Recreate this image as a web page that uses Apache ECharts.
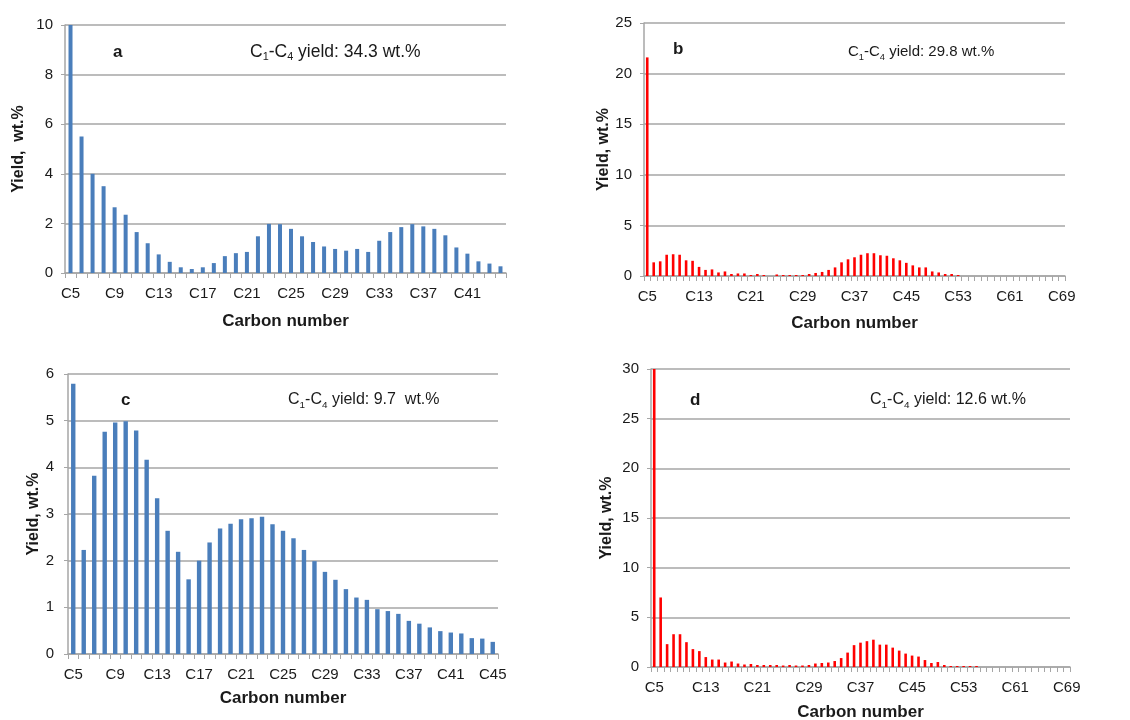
<!DOCTYPE html>
<html>
<head>
<meta charset="utf-8">
<script src="https://cdn.jsdelivr.net/npm/echarts@6/dist/echarts.min.js"></script>
<style>
  html, body { margin: 0; padding: 0; background: #fff; }
  #chart { width: 1130px; height: 720px; }
</style>
</head>
<body>
<div id="chart"></div>
<script>
// carbon number labels, C5 upwards
function carbonLabels(from, to) {
    let out = []
    for (let n = from; n <= to; ++n) {
        out.push('C' + n)
    }
    return out
}

const catsA = carbonLabels(5, 44)
const catsB = carbonLabels(5, 69)
const catsC = carbonLabels(5, 45)
const catsD = carbonLabels(5, 69)

const yieldA = [10, 5.5, 4.0, 3.5, 2.65, 2.35, 1.65, 1.2, 0.75, 0.45,
    0.23, 0.16, 0.23, 0.4, 0.68, 0.8, 0.85, 1.48, 1.98, 1.97,
    1.78, 1.48, 1.25, 1.07, 0.97, 0.9, 0.97, 0.85, 1.3, 1.65,
    1.85, 1.97, 1.88, 1.78, 1.52, 1.03, 0.78, 0.47, 0.38, 0.27]

const yieldB = [21.6, 1.35, 1.45, 2.1, 2.15, 2.1, 1.55, 1.5, 0.9, 0.6,
    0.65, 0.35, 0.45, 0.2, 0.25, 0.25, 0.1, 0.2, 0.1, 0,
    0.15, 0.1, 0.1, 0.1, 0.1, 0.2, 0.3, 0.4, 0.6, 0.85,
    1.35, 1.65, 1.85, 2.1, 2.25, 2.25, 2.05, 2.0, 1.75, 1.55,
    1.3, 1.05, 0.85, 0.85, 0.45, 0.35, 0.2, 0.2, 0.1, 0,
    0, 0, 0, 0, 0, 0, 0, 0, 0, 0,
    0, 0, 0, 0, 0]

const yieldC = [5.79, 2.23, 3.82, 4.76, 4.96, 4.99, 4.79, 4.16, 3.34, 2.64,
    2.19, 1.6, 2.0, 2.39, 2.69, 2.79, 2.89, 2.91, 2.94, 2.78,
    2.64, 2.48, 2.23, 1.99, 1.76, 1.59, 1.39, 1.21, 1.16, 0.96,
    0.92, 0.86, 0.71, 0.65, 0.57, 0.49, 0.46, 0.44, 0.34, 0.33,
    0.26]

const yieldD = [30, 7.0, 2.3, 3.3, 3.3, 2.5, 1.8, 1.6, 1.0, 0.75,
    0.75, 0.45, 0.55, 0.35, 0.25, 0.3, 0.2, 0.2, 0.2, 0.2,
    0.15, 0.2, 0.15, 0.15, 0.2, 0.35, 0.4, 0.45, 0.6, 0.9,
    1.45, 2.2, 2.45, 2.6, 2.75, 2.25, 2.25, 1.95, 1.65, 1.35,
    1.15, 1.05, 0.7, 0.4, 0.5, 0.2, 0.1, 0.1, 0.1, 0.1,
    0.1, 0, 0, 0, 0, 0, 0, 0, 0, 0,
    0, 0, 0, 0, 0]

const panelLetters = ['a', 'b', 'c', 'd']
const gasYields = ['34.3 wt.%', '29.8 wt.%', '9.7  wt.%', '12.6 wt.%']

const FONT = '"Liberation Sans", Arial, sans-serif'
const TEXT = '#1a1a1a'
const GRID_COLOR = '#a6a6a6'
const BLUE = '#4a7ebb'
const RED = '#ff0000'

let panels = [
    { cats: catsA, data: yieldA, color: BLUE, max: 10, step: 2, every: 3, barWidth: 4, yName: 'Yield,  wt.%', yGap: 38,
      yMargin: 12, grid: { left: 65, top: 25, width: 441, height: 248 }, xGap: 40 },
    { cats: catsB, data: yieldB, color: RED, max: 25, step: 5, every: 7, barWidth: 2.6, yName: 'Yield, wt.%', yGap: 31,
      yMargin: 12, grid: { left: 644, top: 23, width: 421, height: 253 }, xGap: 39 },
    { cats: catsC, data: yieldC, color: BLUE, max: 6, step: 1, every: 3, barWidth: 4.4, yName: 'Yield, wt.%', yGap: 25,
      yMargin: 14, grid: { left: 68, top: 374, width: 430, height: 280 }, xGap: 36 },
    { cats: catsD, data: yieldD, color: RED, max: 30, step: 5, every: 7, barWidth: 2.6, yName: 'Yield, wt.%', yGap: 36,
      yMargin: 12, grid: { left: 651, top: 369, width: 419, height: 298 }, xGap: 37 },
]

let grids = []
let xAxes = []
let yAxes = []
let series = []

panels.forEach((p, i) => {
    // fixed pixel boxes, don't let echarts shrink them to fit labels
    grids.push(Object.assign({ show: false, outerBoundsMode: 'none', containLabel: false }, p.grid))
    xAxes.push({
        type: 'category',
        gridIndex: i,
        data: p.cats,
        boundaryGap: true,
        axisLine: { lineStyle: { color: GRID_COLOR, width: 1.5 } },
        axisTick: { show: true, interval: 0, length: 5, lineStyle: { color: GRID_COLOR } },
        axisLabel: { interval: p.every, color: TEXT, fontSize: 15, fontFamily: FONT, margin: 13 },
        name: 'Carbon number',
        nameLocation: 'middle',
        nameGap: p.xGap,
        nameTextStyle: { color: TEXT, fontSize: 17, fontWeight: 'bold', fontFamily: FONT },
    })
    yAxes.push({
        type: 'value',
        gridIndex: i,
        min: 0,
        max: p.max,
        interval: p.step,
        axisLine: { show: true, lineStyle: { color: GRID_COLOR, width: 1.5 } },
        axisTick: { show: true, length: 4, lineStyle: { color: GRID_COLOR } },
        axisLabel: { color: TEXT, fontSize: 15, fontFamily: FONT, margin: p.yMargin },
        splitLine: { lineStyle: { color: GRID_COLOR, width: 1.5 } },
        name: p.yName,
        nameLocation: 'middle',
        nameRotate: 90,
        nameGap: p.yGap,
        nameTextStyle: { color: TEXT, fontSize: 16, fontWeight: 'bold', fontFamily: FONT },
    })
    series.push({
        type: 'bar',
        xAxisIndex: i,
        yAxisIndex: i,
        data: p.data,
        barWidth: p.barWidth,
        itemStyle: { color: p.color },
        silent: true,
        animation: false,
    })
})

// panel letters and C1-C4 gas yield notes
let letterPos = [[113, 44], [673, 41], [121, 392], [690, 392]]
let notePos = [[250, 43], [848, 44], [288, 392], [870, 392]]
let noteSize = [17.5, 15, 16, 16]
let graphics = []
panelLetters.forEach((l, i) => {
    graphics.push({
        type: 'text',
        left: letterPos[i][0],
        top: letterPos[i][1],
        style: { text: l, fontSize: 17, fontWeight: 'bold', fontFamily: FONT, fill: TEXT },
    })
    let fs = noteSize[i]
    graphics.push({
        type: 'text',
        left: notePos[i][0],
        top: notePos[i][1],
        style: {
            text: '{n|C}{s|1}{n|-C}{s|4}{n| yield: ' + gasYields[i] + '}',
            fill: TEXT,
            rich: {
                n: { fontSize: fs, fontFamily: FONT, lineHeight: 21, fill: TEXT },
                s: { fontSize: fs * 0.62, fontFamily: FONT, lineHeight: 12, verticalAlign: 'bottom', fill: TEXT },
            },
        },
    })
})

let chart = echarts.init(document.getElementById('chart'), null, { renderer: 'canvas' })
chart.setOption({
    animation: false,
    backgroundColor: '#ffffff',
    grid: grids,
    xAxis: xAxes,
    yAxis: yAxes,
    series: series,
    graphic: graphics,
})
</script>
</body>
</html>
